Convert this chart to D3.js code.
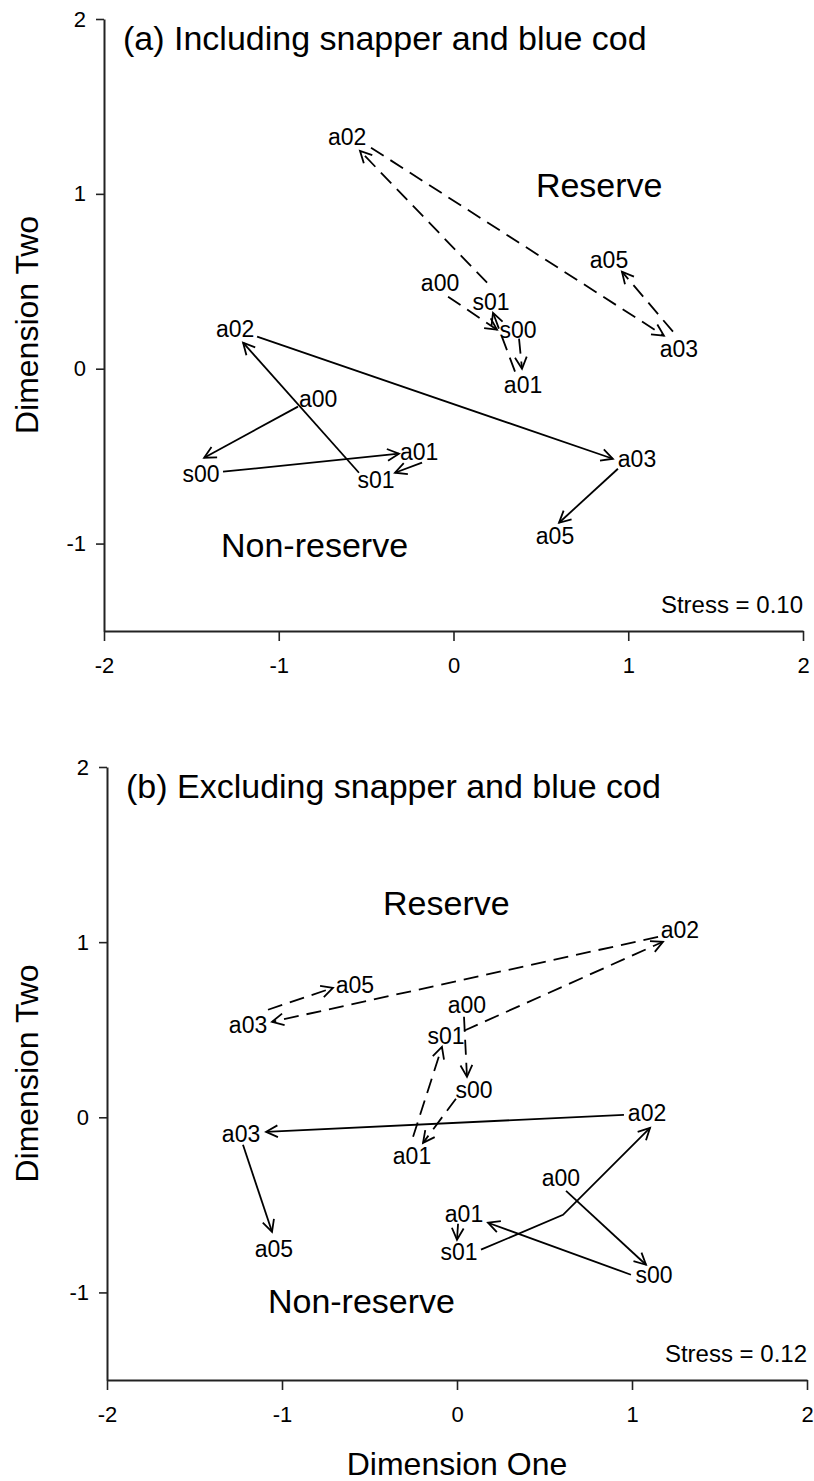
<!DOCTYPE html>
<html>
<head>
<meta charset="utf-8">
<script src="https://cdn.jsdelivr.net/npm/d3@7"></script>
<style>
  html, body { margin: 0; padding: 0; background: #fff; }
  svg { display: block; font-family: "Liberation Sans", Arial, Helvetica, sans-serif; }
</style>
</head>
<body>
<svg id="chart" width="814" height="1481"></svg>
<script>
// ---- Axis ticks -------------------------------------------------------
const xTicks = [-2, -1, 0, 1, 2];
const yTicks = [-1, 0, 1, 2];

// ---- Sampling events (order of the trajectory) ------------------------
const sites = ["a00", "s00", "a01", "s01", "a02", "a03", "a05"];

// ---- (a) Including snapper and blue cod -------------------------------
// Reserve: MDS scores of each sampling event
const aResX = [-0.077, 0.369, 0.398, 0.215, -0.609, 1.290, 0.890];
const aResY = [0.492, 0.223, -0.091, 0.383, 1.326, 0.114, 0.623];
// Reserve: arrows between consecutive events
const aResFromX = [-0.031, 0.375, 0.352, 0.192, -0.472, 1.256];
const aResFromY = [0.412, 0.172, -0.017, 0.492, 1.264, 0.212];
const aResToX = [0.249, 0.392, 0.226, -0.535, 1.204, 0.964];
const aResToY = [0.223, 0.000, 0.320, 1.246, 0.189, 0.555];

// Non-reserve
const aNonX = [-0.775, -1.445, -0.197, -0.443, -1.250, 1.050, 0.581];
const aNonY = [-0.172, -0.600, -0.475, -0.635, 0.229, -0.515, -0.955];
const aNonFromX = [-0.890, -1.319, -0.180, -0.541, -1.124, 0.941];
const aNonFromY = [-0.217, -0.589, -0.537, -0.595, 0.183, -0.572];
const aNonToX = [-1.427, -0.312, -0.335, -1.204, 0.912, 0.604];
const aNonToY = [-0.509, -0.486, -0.595, 0.149, -0.515, -0.881];

// ---- (b) Excluding snapper and blue cod -------------------------------
const bResX = [0.057, 0.097, -0.257, -0.063, 1.274, -1.194, -0.583];
const bResY = [0.642, 0.157, -0.220, 0.465, 1.070, 0.528, 0.756];
const bResFromX = [0.040, -0.006, -0.251, 0.040, 1.149, -1.080];
const bResFromY = [0.574, 0.106, -0.111, 0.494, 1.030, 0.614];
const bResToX = [0.057, -0.194, -0.086, 1.177, -1.057, -0.709];
const bResToY = [0.231, -0.146, 0.402, 1.002, 0.545, 0.739];

const bNonX = [0.594, 1.126, 0.040, 0.011, 1.086, -1.234, -1.046];
const bNonY = [-0.345, -0.899, -0.551, -0.768, 0.026, -0.094, -0.751];
const bNonFromX = [0.623, 0.994, 0.006, 0.137, 0.954, -1.223];
const bNonFromY = [-0.420, -0.899, -0.608, -0.756, 0.014, -0.157];
const bNonToX = [1.080, 0.177, 0.000, 1.103, -1.091, -1.057];
const bNonToY = [-0.842, -0.602, -0.699, -0.060, -0.083, -0.654];
// the s01 -> a02 arrow is drawn with one bend
const bNonBendX = [null, null, null, 0.606, null, null];
const bNonBendY = [null, null, null, -0.557, null, null];

const panelTitles = ["(a) Including snapper and blue cod", "(b) Excluding snapper and blue cod"];
const stressLabels = ["Stress = 0.10", "Stress = 0.12"];
const zoneLabels = ["Reserve", "Non-reserve"];
const xTitle = "Dimension One";
const yTitle = "Dimension Two";

// ---- Layout -------------------------------------------------------------
const svg = d3.select("#chart");
const INK = "#000";
const AXIS = "#222";
const FONT = "'Liberation Sans', Arial, sans-serif";

const panels = [
  {
    xr: [104, 803], yr: [631, 19],
    title: panelTitles[0], stress: stressLabels[0],
    zones: [{t: zoneLabels[0], x: 0.483, y: 0.983}, {t: zoneLabels[1], x: -1.319, y: -1.075}],
    groups: [
      {x: aResX, y: aResY, fx: aResFromX, fy: aResFromY, tx: aResToX, ty: aResToY, dashed: true},
      {x: aNonX, y: aNonY, fx: aNonFromX, fy: aNonFromY, tx: aNonToX, ty: aNonToY, dashed: false}
    ],
    showXTitle: false
  },
  {
    xr: [107, 807], yr: [1380, 767],
    title: panelTitles[1], stress: stressLabels[1],
    zones: [{t: zoneLabels[0], x: -0.411, y: 1.156}, {t: zoneLabels[1], x: -1.069, y: -1.116}],
    groups: [
      {x: bResX, y: bResY, fx: bResFromX, fy: bResFromY, tx: bResToX, ty: bResToY, dashed: true},
      {x: bNonX, y: bNonY, fx: bNonFromX, fy: bNonFromY, tx: bNonToX, ty: bNonToY,
       bx: bNonBendX, by: bNonBendY, dashed: false}
    ],
    showXTitle: true
  }
];

const fmt = d => String(d);

panels.forEach(p => {
  const x = d3.scaleLinear().domain([-2, 2]).range(p.xr);
  const y = d3.scaleLinear().domain([-1.5, 2]).range(p.yr);
  const g = svg.append("g");

  // axes
  const xa = g.append("g")
    .attr("transform", `translate(0,${p.yr[0]})`)
    .call(d3.axisBottom(x).tickValues(xTicks).tickFormat(fmt).tickSize(10).tickSizeOuter(0).tickPadding(16));
  const ya = g.append("g")
    .attr("transform", `translate(${p.xr[0]},0)`)
    .call(d3.axisLeft(y).tickValues(yTicks).tickFormat(fmt).tickSize(8).tickSizeOuter(0).tickPadding(10));
  [xa, ya].forEach(a => {
    a.selectAll("path.domain").attr("stroke", AXIS).attr("stroke-width", 2);
    a.selectAll(".tick line").attr("stroke", AXIS).attr("stroke-width", 1.6);
    a.selectAll(".tick text").attr("fill", INK)
      .style("font-size", "22px").style("font-family", FONT);
  });

  // y title
  const ymid = (p.yr[0] + p.yr[1]) / 2;
  g.append("text")
    .attr("transform", `translate(38,${ymid}) rotate(-90)`)
    .attr("text-anchor", "middle")
    .style("font-size", "32px").attr("fill", INK)
    .text(yTitle);

  // x title
  if (p.showXTitle) {
    g.append("text")
      .attr("x", (p.xr[0] + p.xr[1]) / 2).attr("y", p.yr[0] + 95)
      .attr("text-anchor", "middle")
      .style("font-size", "32px").attr("fill", INK)
      .text(xTitle);
  }

  // panel title
  g.append("text")
    .attr("x", p.xr[0] + 19).attr("y", p.yr[1] + 31)
    .style("font-size", "34px").attr("fill", INK)
    .text(p.title);

  // zone labels
  p.zones.forEach(z => {
    g.append("text")
      .attr("x", x(z.x) - 2).attr("y", y(z.y))
      .style("font-size", "34px").attr("fill", INK)
      .text(z.t);
  });

  // stress
  g.append("text")
    .attr("x", p.xr[1]).attr("y", p.yr[0] - 18)
    .attr("text-anchor", "end")
    .style("font-size", "24px").attr("fill", INK)
    .text(p.stress);

  // trajectories
  p.groups.forEach(grp => {
    const n = grp.fx.length;
    for (let i = 0; i < n; i++) {
      const pts = [[x(grp.fx[i]), y(grp.fy[i])]];
      if (grp.bx && grp.bx[i] != null) pts.push([x(grp.bx[i]), y(grp.by[i])]);
      pts.push([x(grp.tx[i]), y(grp.ty[i])]);
      g.append("path")
        .attr("d", d3.line()(pts))
        .attr("fill", "none").attr("stroke", INK).attr("stroke-width", 1.8)
        .attr("stroke-dasharray", grp.dashed ? "15,8" : null);
      // open arrowhead at the destination
      const [tx, ty] = pts[pts.length - 1];
      const [px, py] = pts[pts.length - 2];
      const ang = Math.atan2(ty - py, tx - px);
      const L = 13, th = 0.47;
      const w1 = [tx - L * Math.cos(ang - th), ty - L * Math.sin(ang - th)];
      const w2 = [tx - L * Math.cos(ang + th), ty - L * Math.sin(ang + th)];
      g.append("path")
        .attr("d", d3.line()([w1, [tx, ty], w2]))
        .attr("fill", "none").attr("stroke", INK).attr("stroke-width", 1.8);
    }
    // event labels
    g.selectAll(null).data(sites).enter().append("text")
      .attr("x", (d, i) => x(grp.x[i]))
      .attr("y", (d, i) => y(grp.y[i]))
      .attr("dy", "0.36em")
      .attr("text-anchor", "middle")
      .style("font-size", "23px").attr("fill", INK)
      .text(d => d);
  });
});
</script>
</body>
</html>
